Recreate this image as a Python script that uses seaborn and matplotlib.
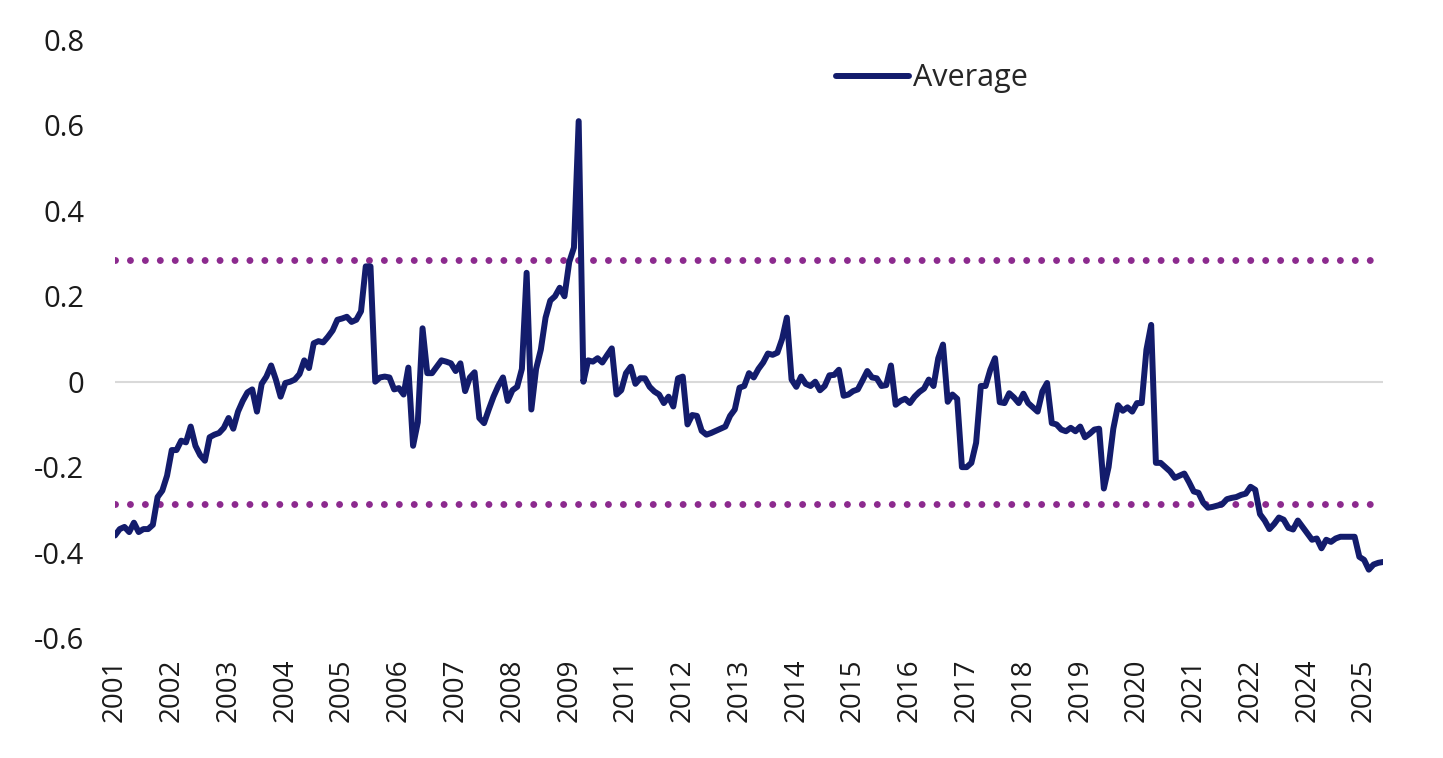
import numpy as np
import pandas as pd
import matplotlib
matplotlib.use("Agg")
import matplotlib.pyplot as plt
import seaborn as sns

# Monthly "Average" series (category axis, one label every 12 points)
average = [
    -0.360, -0.345, -0.340, -0.352, -0.330, -0.352, -0.345, -0.345, -0.335, -0.270, -0.255, -0.220,
    -0.160, -0.160, -0.138, -0.142, -0.105, -0.150, -0.172, -0.185, -0.130, -0.124, -0.120, -0.108,
    -0.085, -0.110, -0.070, -0.045, -0.025, -0.018, -0.070, -0.005, 0.012, 0.038, 0.005, -0.035,
    -0.003, 0.000, 0.005, 0.018, 0.050, 0.032, 0.090, 0.095, 0.092, 0.105, 0.120, 0.145,
    0.148, 0.152, 0.140, 0.145, 0.165, 0.270, 0.270, 0.000, 0.010, 0.012, 0.010, -0.018,
    -0.015, -0.030, 0.033, -0.150, -0.095, 0.125, 0.020, 0.020, 0.035, 0.050, 0.047, 0.043,
    0.025, 0.043, -0.022, 0.010, 0.022, -0.085, -0.097, -0.065, -0.035, -0.010, 0.010, -0.045,
    -0.020, -0.012, 0.030, 0.255, -0.065, 0.030, 0.075, 0.150, 0.190, 0.200, 0.220, 0.200,
    0.280, 0.314, 0.610, 0.000, 0.050, 0.047, 0.055, 0.045, 0.062, 0.078, -0.030, -0.020,
    0.020, 0.035, -0.005, 0.008, 0.008, -0.012, -0.023, -0.030, -0.050, -0.035, -0.058, 0.008,
    0.012, -0.100, -0.078, -0.080, -0.115, -0.124, -0.120, -0.115, -0.110, -0.105, -0.080, -0.065,
    -0.014, -0.010, 0.020, 0.010, 0.030, 0.045, 0.066, 0.063, 0.068, 0.100, 0.150, 0.005,
    -0.012, 0.012, -0.005, -0.010, 0.000, -0.020, -0.010, 0.015, 0.016, 0.028, -0.033, -0.030,
    -0.022, -0.018, 0.003, 0.025, 0.010, 0.008, -0.010, -0.008, 0.038, -0.054, -0.045, -0.040,
    -0.050, -0.035, -0.024, -0.016, 0.005, -0.010, 0.055, 0.087, -0.047, -0.030, -0.040, -0.200,
    -0.200, -0.190, -0.143, -0.010, -0.010, 0.028, 0.055, -0.048, -0.050, -0.027, -0.037, -0.050,
    -0.028, -0.050, -0.060, -0.070, -0.023, -0.003, -0.097, -0.100, -0.112, -0.116, -0.108, -0.116,
    -0.105, -0.130, -0.122, -0.112, -0.110, -0.250, -0.200, -0.110, -0.055, -0.068, -0.060, -0.070,
    -0.050, -0.050, 0.075, 0.133, -0.190, -0.190, -0.200, -0.210, -0.225, -0.220, -0.215, -0.235,
    -0.257, -0.260, -0.283, -0.295, -0.293, -0.290, -0.287, -0.275, -0.272, -0.270, -0.265, -0.262,
    -0.246, -0.253, -0.310, -0.325, -0.345, -0.333, -0.318, -0.323, -0.342, -0.346, -0.325, -0.340,
    -0.355, -0.370, -0.367, -0.390, -0.370, -0.375, -0.367, -0.363, -0.363, -0.363, -0.363, -0.410,
    -0.417, -0.440, -0.428, -0.424, -0.422,
]

year_labels = ["2001", "2002", "2003", "2004", "2005", "2006", "2007", "2008", "2009",
               "2011", "2012", "2013", "2014", "2015", "2016", "2017", "2018", "2019",
               "2020", "2021", "2022", "2024", "2025"]
label_step = 12

upper_band = 0.284
lower_band = -0.287

df = pd.DataFrame({"idx": np.arange(len(average)), "Average": average})

sns.set_theme(style="white")
plt.rcParams["font.family"] = ["Open Sans", "DejaVu Sans"]

navy = "#131c6c"
purple = "#8c2a8e"
line_w = 4.3

fig = plt.figure(figsize=(14.43, 7.58), dpi=100)
ax = fig.add_axes([115 / 1443, 1 - 638 / 758, (1383 - 115) / 1443, (638 - 40) / 758])

ax.axhline(0, color="#d9d9d9", lw=1.5, zorder=1)
ax.axhline(upper_band, color=purple, lw=5, linestyle=(0, (0.001, 2.15)),
           dash_capstyle="round", zorder=2)
ax.axhline(lower_band, color=purple, lw=5, linestyle=(0, (0.001, 2.15)),
           dash_capstyle="round", zorder=2)

sns.lineplot(data=df, x="idx", y="Average", ax=ax, color=navy, lw=line_w,
             label="Average", zorder=3)

ax.set_xlim(0, len(average) - 1)
ax.set_ylim(-0.6, 0.8)
ax.set_yticks(np.arange(-0.6, 0.81, 0.2))
ax.set_yticklabels(["-0.6", "-0.4", "-0.2", "0", "0.2", "0.4", "0.6", "0.8"])
ax.set_xticks(np.arange(0, label_step * len(year_labels), label_step))
ax.set_xticklabels(year_labels, rotation=90)
ax.tick_params(axis="y", length=0, pad=22, labelsize=21, labelcolor="#1a1a1a")
ax.tick_params(axis="x", length=0, pad=15, labelsize=20, labelcolor="#1a1a1a")
ax.set_xlabel("")
ax.set_ylabel("")
for s in ax.spines.values():
    s.set_visible(False)
ax.grid(False)

leg = ax.legend(loc="center left", bbox_to_anchor=(0.5686, 0.936), frameon=False,
                fontsize=22, handlelength=2.4, handletextpad=0.12,
                borderaxespad=0, borderpad=0)
for line in leg.get_lines():
    line.set_linewidth(line_w)

fig.savefig("out.png", dpi=100, facecolor="white")
